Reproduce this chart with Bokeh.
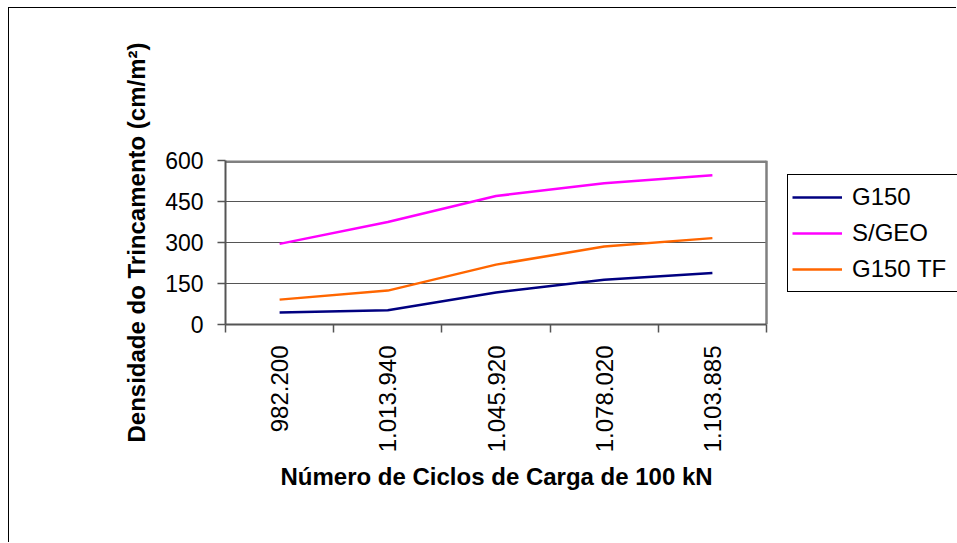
from bokeh.plotting import figure
from bokeh.models import (FixedTicker, CustomJSTickFormatter, Legend, LegendItem, Range1d, Title)
from bokeh.embed import file_html
from bokeh.resources import INLINE
import math

# ---- data ----
ciclos = ["982.200", "1.013.940", "1.045.920", "1.078.020", "1.103.885"]
g150 = [44, 52, 117, 164, 188]
s_geo = [295, 375, 470, 517, 546]
g150_tf = [91, 124, 219, 285, 316]
series_names = ["G150", "S/GEO", "G150 TF"]
series_colors = ["#000080", "#FF00FF", "#FF6600"]
y_ticks = [0, 150, 300, 450, 600]
x_title = "Número de Ciclos de Carga de 100 kN"
y_title = "Densidade do Trincamento (cm/m²)"

# ---- layout constants ----
W, H = 948, 535
BL, BT, BB = 216, 152, 219
PLOT_W = 541          # width of the category area in px
frame_w = W - BL

n = len(ciclos)
xs = [i + 0.5 for i in range(n)]
centers = xs
bounds = list(range(n + 1))
x_end = n * frame_w / PLOT_W
y_max = y_ticks[-1]

p = figure(width=W, height=H, output_backend="svg", toolbar_location=None,
           x_range=Range1d(0, x_end), y_range=Range1d(0, y_max),
           min_border_left=BL, min_border_right=0,
           min_border_top=BT, min_border_bottom=BB)
p.margin = (7, 0, 0, 8)
p.styles = {"border-left": "1px solid black", "border-top": "1px solid black"}

p.background_fill_color = "white"
p.border_fill_color = "white"
p.outline_line_color = None

FONT = "Liberation Sans"

# x axis
xa = p.xaxis[0]
xa.bounds = (0, n)
xa.ticker = FixedTicker(ticks=centers, minor_ticks=bounds)
xa.formatter = CustomJSTickFormatter(args=dict(labels=ciclos),
                                     code="return labels[Math.floor(tick)];")
xa.major_tick_out = 0
xa.major_tick_in = 0
xa.minor_tick_out = 8
xa.minor_tick_in = 0
xa.minor_tick_line_color = "#555555"
xa.minor_tick_line_width = 1.5
xa.axis_line_color = "#555555"
xa.axis_line_width = 2
xa.major_label_orientation = math.pi / 2
xa.major_label_text_font = FONT
xa.major_label_text_font_size = "24px"
xa.major_label_text_color = "black"
xa.major_label_standoff = 13

# x title centred under the category area
t = Title(text=x_title, align="left", offset=55, standoff=10,
          text_font=FONT, text_font_size="24px", text_font_style="bold",
          text_color="black")
p.add_layout(t, "below")

# y axis
ya = p.yaxis[0]
ya.ticker = FixedTicker(ticks=y_ticks)
ya.major_tick_out = 8
ya.major_tick_in = 0
ya.minor_tick_out = 0
ya.minor_tick_in = 0
ya.major_tick_line_color = "#555555"
ya.major_tick_line_width = 1.5
ya.axis_line_color = "#555555"
ya.axis_line_width = 2
ya.major_label_text_font = FONT
ya.major_label_text_font_size = "23px"
ya.major_label_text_color = "black"
ya.major_label_standoff = 14
ya.axis_label = y_title
ya.axis_label_text_font = FONT
ya.axis_label_text_font_size = "24px"
ya.axis_label_text_font_style = "bold"
ya.axis_label_text_color = "black"
ya.axis_label_standoff = 12

# grid lines limited to the category area
p.xgrid.visible = False
p.ygrid.visible = False
inner = y_ticks[1:-1]
p.segment(x0=[0] * len(inner), y0=inner, x1=[n] * len(inner), y1=inner,
          line_color="#555555", line_width=1)
# plot-area border (top and right)
p.segment(x0=[0], y0=[y_max], x1=[n], y1=[y_max], line_color="#808080", line_width=5)
p.segment(x0=[n], y0=[0], x1=[n], y1=[y_max], line_color="#808080", line_width=2.5)

renderers = []
for vals, color in zip([g150, s_geo, g150_tf], series_colors):
    r = p.line(xs, vals, line_color=color, line_width=2.5)
    renderers.append(r)

legend = Legend(items=[LegendItem(label=nm, renderers=[r]) for nm, r in zip(series_names, renderers)],
                location=(562, 32))
legend.border_line_color = "black"
legend.border_line_alpha = 1
legend.border_line_width = 1
legend.background_fill_color = "white"
legend.background_fill_alpha = 1
legend.padding = 4
legend.spacing = 0
legend.margin = 0
legend.glyph_width = 50
legend.glyph_height = 36
legend.label_height = 36
legend.label_width = 120
legend.label_standoff = 10
legend.label_text_font = FONT
legend.label_text_font_size = "24px"
legend.label_text_color = "black"
p.add_layout(legend, "center")

open("out.html", "w").write(file_html(p, INLINE))
